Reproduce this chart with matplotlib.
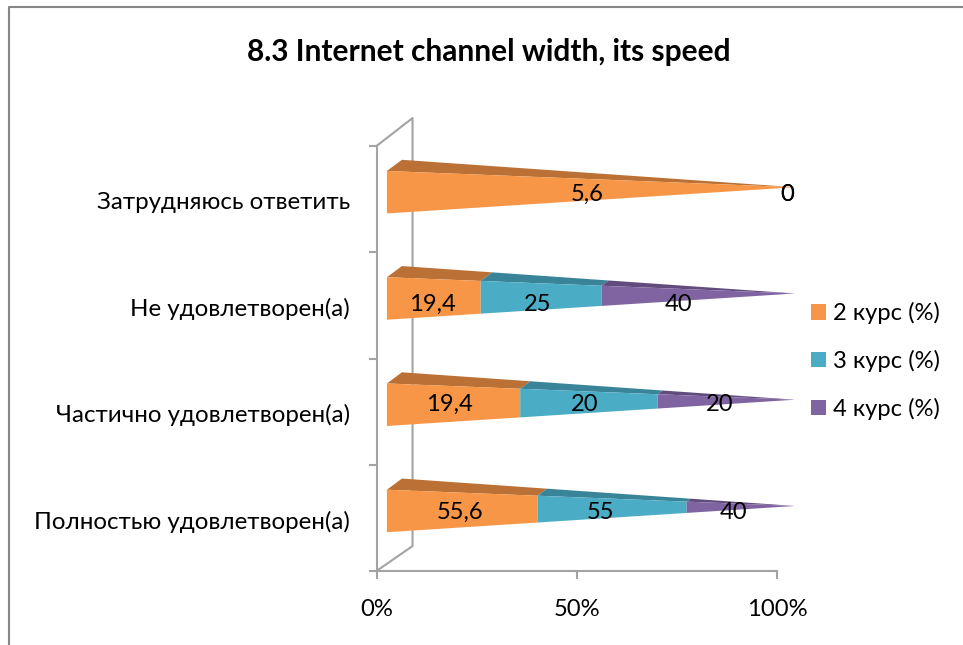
import matplotlib
matplotlib.use("Agg")
import matplotlib.pyplot as plt
from matplotlib.lines import Line2D
from matplotlib.patches import Patch, Polygon

FONT = ['Lato', 'Open Sans', 'DejaVu Sans']
plt.rcParams['font.family'] = FONT

W, H = 963, 645

categories = ["Полностью удовлетворен(а)", "Частично удовлетворен(а)",
              "Не удовлетворен(а)", "Затрудняюсь ответить"]
series_names = ["2 курс (%)", "3 курс (%)", "4 курс (%)"]
course2 = [55.6, 19.4, 19.4, 5.6]
course3 = [55, 20, 25, 0]
course4 = [40, 20, 40, 0]
label_course2 = ["55,6", "19,4", "19,4", "5,6"]
label_course3 = ["55", "20", "25", "0"]
label_course4 = ["40", "20", "40", "0"]
xtick_values = [0, 50, 100]
xtick_labels = ["0%", "50%", "100%"]

front_colors = ["#F79646", "#4BACC6", "#8064A2"]
top_colors = ["#BB7135", "#3A8499", "#624C7D"]
grey = "#A3A3A3"
frame_grey = "#868686"

fig = plt.figure(figsize=(W / 100, H / 100), dpi=100, facecolor="white")
ax = fig.add_axes([376.5 / W, (H - 571) / H, (777 - 376.5) / W, (571 - 146) / H])
ax.set_xlim(0, 100)
ax.set_ylim(0, 4)
ax.patch.set_visible(False)

for s in ("top", "right"):
    ax.spines[s].set_visible(False)
for s in ("left", "bottom"):
    ax.spines[s].set_color(grey)
    ax.spines[s].set_linewidth(1.5)

# back wall of the 3-D box
ax.plot([0, 9, 9, 0], [4, 4.263, 0.235, 0], color=grey, lw=1.5, clip_on=False, zorder=1)

# 3-D pyramid geometry in axis units
BASE_X = 2.6
APEX_X = 104.5
DEPTH_X = 3.75
DEPTH_Y = 0.105
HALF_H = 0.20
FRONT_DY = 0.565
APEX_DY = 0.612


def front_edge(row, f, upper):
    x = BASE_X + f * (APEX_X - BASE_X)
    y0 = row + FRONT_DY + (HALF_H if upper else -HALF_H)
    return x, y0 + f * (row + APEX_DY - y0)


def back_edge(row, f):
    x0 = BASE_X + DEPTH_X
    y0 = row + FRONT_DY + HALF_H + DEPTH_Y
    return x0 + f * (APEX_X - x0), y0 + f * (row + APEX_DY - y0)


nudge = {(2, 2): -3.5, (0, 1): -1.8, (1, 0): -0.7}
text_size = 17.1

all_values = [course2, course3, course4]
all_labels = [label_course2, label_course3, label_course4]
label_dy = [0.05, 0.065, 0.012, 0.045]
for row in range(len(categories)):
    vals = [v[row] for v in all_values]
    total = sum(vals)
    cum = 0.0
    for k, val in enumerate(vals):
        f0 = cum / total
        cum += val
        f1 = cum / total
        if val > 0:
            ax.add_patch(Polygon([front_edge(row, f0, True), back_edge(row, f0),
                                  back_edge(row, f1), front_edge(row, f1, True)],
                                 closed=True, fc=top_colors[k], ec="none",
                                 clip_on=False, zorder=3))
            ax.add_patch(Polygon([front_edge(row, f0, True), front_edge(row, f1, True),
                                  front_edge(row, f1, False), front_edge(row, f0, False)],
                                 closed=True, fc=front_colors[k], ec="none",
                                 clip_on=False, zorder=4))
        xm = (f0 + f1) / 2 * 100 + 2.5 + nudge.get((row, k), 0)
        ax.text(xm, row + 0.5 + label_dy[row], all_labels[k][row], ha="center", va="center",
                fontsize=text_size, color="black", clip_on=False, zorder=6)

# axes ticks
ax.set_xticks(xtick_values)
ax.set_xticklabels(xtick_labels, fontsize=text_size, color="black")
ax.tick_params(axis="x", direction="out", length=6, width=1.5, color=grey, pad=14.5)
ax.set_yticks(range(5))
ax.set_yticklabels([])
ax.tick_params(axis="y", which="major", direction="out", length=6, width=1.5, color=grey)
ax.set_yticks([i + 0.485 for i in range(4)], minor=True)
ax.set_yticklabels(categories, minor=True, fontsize=17.35, color="black")
ax.tick_params(axis="y", which="minor", length=0, pad=19)

# legend
handles = [Patch(fc=c, ec="none") for c in front_colors]
fig.legend(handles, series_names, loc="upper left",
           bbox_to_anchor=(811 / W, 1 - 302 / H), frameon=False,
           fontsize=text_size, handlelength=0.63, handleheight=0.63,
           handletextpad=0.3, labelspacing=1.085, borderpad=0, borderaxespad=0)

# title
fig.text(489 / W, 1 - 52 / H, "8.3 Internet channel width, its speed", ha="center",
         va="center", fontsize=21.5, fontweight="bold", color="black")

# chart-area frame
fig.add_artist(Line2D([8.5 / W, 8.5 / W, 1], [0, 1 - 6.5 / H, 1 - 6.5 / H],
                      color=frame_grey, lw=1.5, transform=fig.transFigure))

fig.savefig("out.png", dpi=100)
